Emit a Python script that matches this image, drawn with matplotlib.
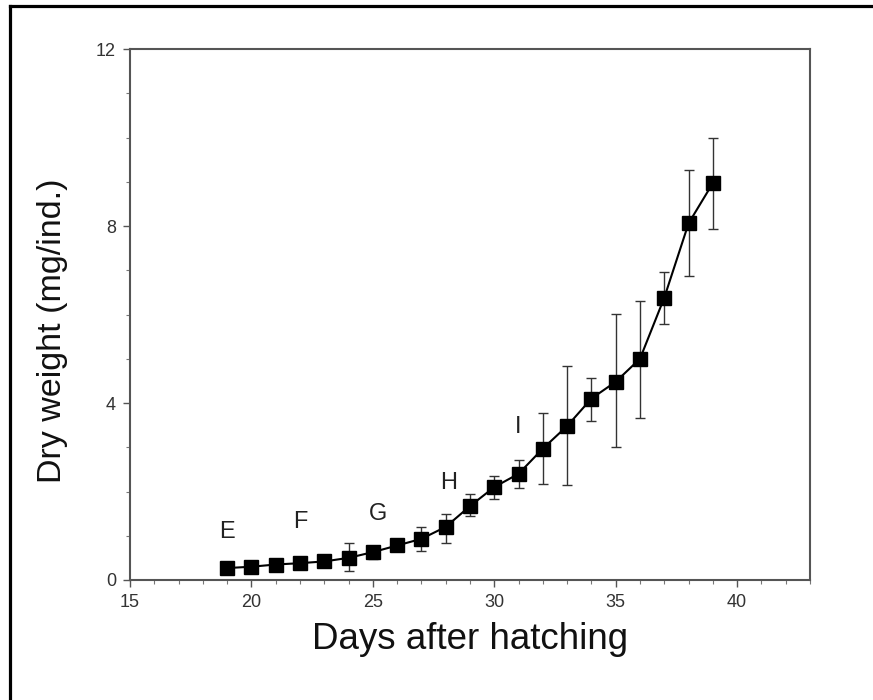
import matplotlib
matplotlib.use("Agg")
import matplotlib.pyplot as plt
from matplotlib.lines import Line2D
from matplotlib.ticker import MultipleLocator

days = [19, 20, 21, 22, 23, 24, 25, 26, 27, 28, 29, 30, 31, 32, 33, 34, 35, 36, 37, 38, 39]
weight = [0.27, 0.30, 0.35, 0.38, 0.42, 0.50, 0.63, 0.78, 0.93, 1.20, 1.67, 2.10, 2.40,
          2.97, 3.48, 4.10, 4.48, 5.00, 6.38, 8.06, 8.97]
err_low = [0.05, 0.05, 0.07, 0.08, 0.05, 0.30, 0.16, 0.10, 0.28, 0.37, 0.23, 0.28, 0.33,
           0.80, 1.34, 0.50, 1.48, 1.35, 0.59, 1.19, 1.04]
err_high = [0.05, 0.05, 0.07, 0.08, 0.05, 0.33, 0.14, 0.10, 0.27, 0.30, 0.27, 0.24, 0.32,
            0.81, 1.36, 0.47, 1.53, 1.30, 0.58, 1.20, 1.03]
stage_labels = ["E", "F", "G", "H", "I"]
stage_x = [19.0, 22.0, 25.2, 28.1, 31.0]
stage_y = [1.08, 1.30, 1.50, 2.20, 3.45]
x_ticks = [15, 20, 25, 30, 35, 40]
y_ticks = [0, 4, 8, 12]

plt.rcParams['font.family'] = ['Liberation Sans', 'DejaVu Sans']

fig = plt.figure(figsize=(8.73, 7.0), dpi=100)
ax = fig.add_axes([130/873, 1-580/700, 680/873, 531/700])

ax.errorbar(days, weight, yerr=[err_low, err_high], fmt='none', ecolor='#333333',
            elinewidth=1.0, capsize=3.5, capthick=1.0, zorder=2)
ax.plot(days, weight, color='black', lw=1.5, marker='s', markersize=10.5,
        markerfacecolor='black', markeredgecolor='black', zorder=3)

for lab, sx, sy in zip(stage_labels, stage_x, stage_y):
    ax.text(sx, sy, lab, ha='center', va='center', fontsize=17, color='#222222')

ax.set_xlim(15, 43)
ax.set_ylim(0, 12)
ax.set_xticks(x_ticks)
ax.set_yticks(y_ticks)
ax.xaxis.set_minor_locator(MultipleLocator(1))
ax.yaxis.set_minor_locator(MultipleLocator(1))
ax.tick_params(axis='both', which='major', direction='out', length=5, width=1,
               color='#555555', labelsize=13, labelcolor='#333333', pad=5)
ax.tick_params(axis='both', which='minor', direction='out', length=3, width=0.8,
               color='#777777')
for s in ax.spines.values():
    s.set_color('#555555')
    s.set_linewidth(1.5)

ax.set_xlabel('Days after hatching', fontsize=26.5, color='#111111')
ax.set_ylabel('Dry weight (mg/ind.)', fontsize=24.5, color='#111111')
ax.xaxis.set_label_coords(0.5, -0.08)
ax.yaxis.set_label_coords(-0.091, 0.47)

fig.add_artist(Line2D([10/873, 10/873], [0, 1-6/700], transform=fig.transFigure,
                      color='black', lw=2.3))
fig.add_artist(Line2D([10/873, 1], [1-6/700, 1-6/700], transform=fig.transFigure,
                      color='black', lw=2.3))

fig.savefig('out.png', dpi=100)
